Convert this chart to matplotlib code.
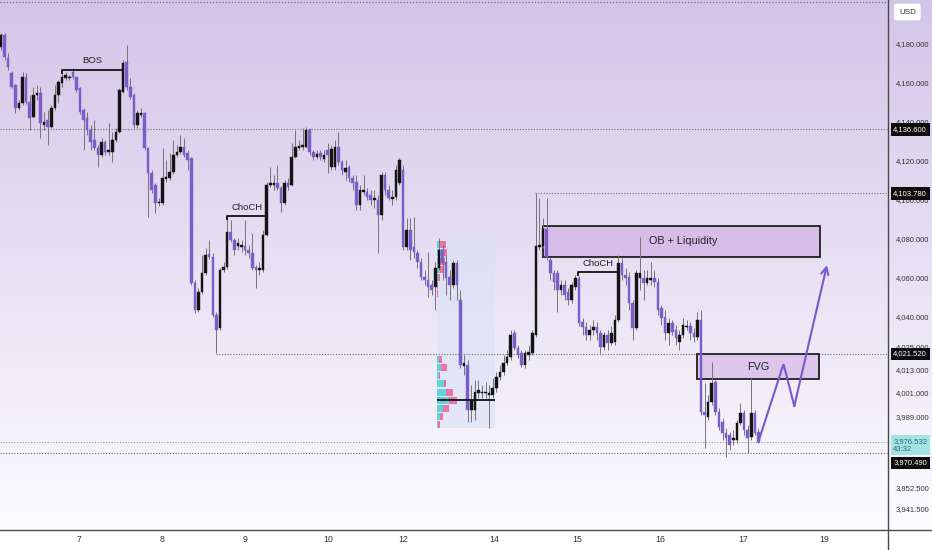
import matplotlib
matplotlib.use("Agg")
import matplotlib.pyplot as plt
import numpy as np
from matplotlib.patches import Rectangle

# ---------------- data (hourly candles) ----------------
opens = [4178.9,4185.0,4173.3,4165.6,4159.4,4147.6,4150.2,4163.5,4150.7,4143.0,
 4154.3,4155.3,4138.9,4141.5,4137.9,4147.6,4154.3,4160.4,4163.0,4163.0,
 4166.1,4163.5,4157.9,4146.6,4142.5,4136.3,4131.2,4127.1,4123.5,4130.2,
 4125.1,4125.1,4131.2,4135.3,4155.8,4171.2,4158.4,4154.3,4138.9,4144.0,
 4145.1,4127.1,4114.3,4108.1,4098.9,4098.9,4111.2,4111.7,4114.8,4123.5,
 4125.1,4127.6,4124.5,4122.0,4057.9,4044.0,4053.3,4063.0,4072.7,4071.2,
 4041.5,4034.8,4064.5,4066.1,4084.0,4079.9,4076.8,4076.3,4076.8,4074.8,
 4073.3,4066.1,4064.5,4064.5,4082.5,4108.1,4108.1,4109.2,4106.6,4098.9,
 4109.2,4108.1,4122.5,4127.1,4127.6,4127.6,4136.3,4125.1,4122.5,4124.5,
 4121.5,4126.1,4117.4,4117.4,4127.6,4119.9,4114.8,4117.4,4111.7,4109.7,
 4097.9,4104.5,4104.5,4103.0,4100.4,4100.4,4092.7,4113.3,4105.6,4101.0,
 4102.0,4109.2,4115.8,4076.3,4085.1,4076.3,4073.3,4068.6,4061.0,4059.4,
 4056.8,4055.8,4065.6,4074.8,4068.6,4061.0,4056.8,4068.1,4049.2,4015.3,
 4015.8,3992.7,3992.7,4001.5,4001.5,4001.5,4000.4,4000.4,4004.0,4009.7,
 4012.2,4016.8,4019.9,4032.2,4024.5,4022.0,4015.8,4020.9,4022.0,4031.2,
 4076.3,4076.8,4085.6,4069.7,4063.0,4063.0,4054.3,4056.8,4053.3,4049.2,
 4055.8,4060.4,4037.9,4035.3,4031.2,4033.8,4035.3,4032.2,4025.1,4031.2,
 4027.1,4027.6,4038.9,4068.1,4062.0,4061.0,4047.6,4034.8,4060.4,4060.4,
 4057.9,4059.4,4060.4,4058.4,4045.1,4040.4,4032.2,4037.4,4033.8,4027.6,
 4031.2,4035.3,4035.8,4032.2,4030.2,4038.9,3991.7,3989.2,3996.8,4007.1,
 3991.7,3986.6,3980.9,3979.9,3977.4,3977.4,3986.1,3991.2,3982.5,3978.9,
 3991.2,3981.5]
highs = [4186.1,4186.1,4175.8,4166.6,4159.9,4151.7,4166.1,4165.6,4154.3,4158.4,
 4159.4,4158.4,4145.6,4146.6,4149.2,4159.4,4162.0,4165.6,4166.1,4164.5,
 4168.1,4164.0,4158.4,4147.6,4145.6,4138.9,4141.5,4128.6,4132.2,4131.2,
 4139.9,4135.3,4137.4,4157.9,4172.2,4179.9,4163.0,4155.3,4146.6,4147.6,
 4145.6,4127.6,4115.8,4109.2,4101.5,4127.1,4121.0,4124.5,4131.2,4128.6,
 4133.8,4132.2,4126.1,4122.5,4059.4,4055.3,4072.2,4075.8,4079.9,4073.3,
 4043.0,4065.6,4068.6,4091.7,4090.2,4080.9,4080.9,4079.9,4090.2,4077.4,
 4083.5,4067.1,4068.6,4085.1,4109.7,4117.4,4113.3,4118.4,4107.6,4110.7,
 4111.7,4129.7,4136.3,4131.2,4137.4,4137.9,4137.4,4126.1,4126.1,4126.1,
 4126.1,4129.7,4128.6,4131.2,4135.3,4121.0,4121.0,4118.4,4113.3,4113.3,
 4108.1,4113.3,4106.6,4105.6,4105.6,4103.0,4114.8,4114.8,4108.1,4105.6,
 4118.4,4122.0,4118.4,4091.2,4091.2,4091.7,4074.8,4070.7,4064.5,4073.8,
 4059.4,4068.6,4080.9,4077.4,4072.2,4064.5,4069.7,4069.7,4054.3,4020.9,
 4018.4,4005.6,4008.1,4008.1,4005.6,4007.1,4005.6,4009.2,4012.2,4015.8,
 4020.9,4023.5,4033.8,4033.8,4026.1,4023.5,4023.5,4026.1,4033.8,4104.0,
 4101.5,4091.2,4101.5,4071.2,4064.5,4064.5,4059.4,4059.4,4055.3,4058.4,
 4062.0,4061.5,4039.9,4037.9,4036.3,4038.9,4037.9,4033.8,4032.7,4033.8,
 4035.8,4041.5,4072.2,4070.7,4065.6,4063.5,4049.2,4064.5,4081.5,4064.5,
 4064.5,4068.6,4064.5,4060.4,4046.6,4044.0,4039.9,4038.9,4036.3,4033.8,
 4039.9,4038.9,4037.9,4034.8,4043.0,4044.0,4006.6,4000.4,4017.4,4008.1,
 3993.8,3988.6,3983.5,3981.5,3982.5,3987.6,3996.3,3992.7,3985.1,4009.2,
 3992.7,3983.5]
lows = [4177.4,4172.2,4167.1,4157.9,4145.1,4146.6,4149.2,4149.7,4136.3,4142.5,
 4151.7,4132.2,4136.3,4128.6,4137.4,4146.6,4150.2,4158.4,4162.0,4162.0,
 4162.5,4155.8,4144.5,4126.1,4133.8,4126.1,4126.1,4117.4,4122.5,4123.5,
 4123.5,4119.9,4130.2,4134.8,4155.3,4156.8,4152.2,4137.4,4137.4,4143.0,
 4126.1,4091.7,4104.0,4093.8,4097.4,4097.9,4109.7,4110.7,4113.8,4122.5,
 4124.0,4122.5,4115.8,4056.8,4042.5,4043.0,4052.2,4062.0,4070.2,4040.4,
 4022.0,4033.8,4063.5,4065.1,4078.9,4072.2,4074.8,4073.8,4072.2,4070.7,
 4064.5,4055.3,4062.0,4063.5,4082.0,4107.1,4105.6,4105.6,4094.3,4097.9,
 4105.6,4107.6,4122.0,4126.1,4126.1,4127.1,4123.5,4121.0,4121.5,4121.0,
 4119.9,4114.3,4115.8,4115.8,4118.4,4113.3,4110.7,4109.7,4105.6,4095.3,
 4095.3,4103.0,4100.4,4097.9,4096.3,4073.3,4090.2,4103.0,4100.4,4097.9,
 4100.4,4108.1,4074.8,4074.8,4069.7,4070.7,4065.6,4059.4,4056.8,4050.7,
 4051.7,4044.0,4064.5,4059.4,4051.7,4049.2,4055.3,4049.2,4014.3,4010.7,
 3986.6,3986.6,3987.6,3998.9,3998.9,3998.9,3983.5,3998.9,4002.0,4008.1,
 4010.7,4015.8,4018.4,4023.5,4019.4,4014.8,4014.3,4018.4,4020.9,4030.2,
 4074.8,4075.8,4069.7,4059.4,4054.3,4043.0,4051.7,4049.2,4046.6,4047.6,
 4054.3,4035.8,4031.2,4028.6,4028.6,4031.2,4028.6,4022.0,4023.5,4023.5,
 4026.1,4026.1,4037.9,4059.4,4056.8,4044.0,4028.6,4033.8,4054.3,4049.2,
 4056.8,4056.8,4055.8,4041.5,4036.3,4028.6,4026.1,4031.2,4026.1,4023.5,
 4029.7,4033.8,4028.6,4027.6,4028.6,3990.2,3973.3,3987.6,3995.3,3990.2,
 3982.5,3977.4,3968.6,3972.2,3974.8,3975.8,3985.1,3979.9,3970.7,3977.4,
 3979.9,3975.8]
closes = [4185.0,4173.8,4168.6,4158.4,4147.6,4150.2,4163.5,4150.7,4142.5,4154.3,
 4155.3,4139.9,4140.4,4137.9,4147.6,4154.3,4161.0,4163.5,4164.5,4163.5,
 4163.5,4156.8,4145.6,4141.5,4136.3,4130.2,4127.1,4123.5,4130.2,4125.1,
 4126.1,4131.2,4135.3,4156.8,4170.7,4158.4,4153.3,4138.9,4145.1,4145.1,
 4127.1,4114.3,4105.6,4098.9,4099.4,4111.7,4112.2,4114.8,4123.5,4125.1,
 4127.6,4123.5,4121.0,4057.9,4044.0,4053.3,4063.0,4072.2,4071.2,4041.5,
 4033.8,4064.5,4066.1,4084.0,4079.9,4074.8,4078.4,4077.4,4074.8,4073.3,
 4065.6,4064.5,4065.6,4082.5,4108.1,4109.2,4109.2,4106.6,4098.9,4109.2,
 4107.1,4122.5,4127.6,4128.1,4128.6,4136.3,4125.1,4122.5,4124.0,4122.5,
 4123.5,4123.5,4126.6,4127.6,4119.9,4115.8,4116.8,4111.7,4109.2,4097.9,
 4105.6,4105.6,4102.0,4100.4,4101.5,4092.7,4113.3,4105.6,4101.5,4102.0,
 4115.8,4121.0,4076.3,4085.1,4074.8,4073.8,4068.6,4061.0,4059.4,4055.8,
 4054.3,4065.6,4074.8,4068.1,4060.4,4056.8,4068.1,4056.8,4015.8,4016.8,
 3992.7,3997.9,4002.0,4003.0,4002.0,4002.0,4001.5,4004.0,4009.7,4012.2,
 4016.8,4019.9,4031.2,4024.5,4020.9,4015.8,4022.0,4022.5,4032.2,4076.8,
 4077.4,4085.6,4071.2,4063.0,4058.4,4054.3,4056.8,4051.7,4049.2,4056.8,
 4060.4,4037.4,4035.3,4031.2,4033.8,4035.3,4032.2,4025.1,4031.2,4027.1,
 4032.2,4038.9,4068.1,4062.0,4060.4,4047.6,4034.8,4063.0,4063.0,4057.9,
 4060.4,4060.4,4058.4,4044.0,4039.9,4032.2,4037.4,4032.7,4029.7,4031.2,
 4036.3,4035.8,4032.2,4030.2,4038.9,3991.7,3990.2,3996.8,4006.6,3991.7,
 3984.0,3980.9,3978.4,3974.8,3978.4,3986.1,3991.2,3982.5,3978.4,3991.2,
 3980.9,3976.5]

day_labels = ["7", "8", "9", "10", "12", "14", "15", "16", "17", "19"]
day_bar_pos = [21.7, 44.9, 68.0, 91.1, 112.0, 137.4, 160.5, 183.6, 206.7, 229.3]

price_ticks = [4180, 4160, 4140, 4120, 4100, 4080, 4060, 4040, 4025, 4013, 4001, 3989, 3952.5, 3941.5]

marked_levels = [4136.6, 4103.78, 4021.52, 3970.49]
last_price = 3976.532

# visible range volume profile (price rows, buy / sell volume, relative)
vp_prices = [3985.1, 3989.3, 3993.5, 3997.7, 4001.9, 4006.1, 4010.3, 4014.5, 4018.7,
             4022.9, 4027.1, 4031.3, 4035.5, 4039.7, 4043.9, 4048.1, 4052.3, 4056.5,
             4060.7, 4064.9, 4069.1, 4073.3, 4077.5]
vp_buy = [2, 8, 15, 30, 22, 18, 5, 10, 5, 0, 0, 0, 0, 0, 0, 0, 0, 0, 3, 8, 8, 14, 5]
vp_sell = [6, 7, 15, 20, 18, 4, 3, 15, 7, 1, 1, 1, 1, 1, 1, 1, 2, 3, 6, 8, 12, 12, 18]
vp_poc = 3997.9

# ---------------- figure ----------------
W, H = 932, 550
fig = plt.figure(figsize=(W / 100, H / 100), dpi=100)
plt.rcParams["font.family"] = ["Liberation Sans", "DejaVu Sans"]

# background gradient
bg = fig.add_axes([0, 0, 1, 1], zorder=-5)
bg.set_axis_off()
top = np.array([0.823, 0.776, 0.910])
bot = np.array([0.990, 0.988, 0.998])
t = np.linspace(0, 1, 530)[:, None]
grad = top * (1 - t) + bot * t
img = np.ones((550, 1, 3))
img[:530, 0, :] = grad
bg.imshow(img, aspect="auto", extent=[0, 1, 0, 1], origin="upper")
bg.set_xlim(0, 1)
bg.set_ylim(0, 1)

ax = fig.add_axes([0, 20 / H, 888 / W, 530 / H])
ax.patch.set_alpha(0)
for s in ax.spines.values():
    s.set_visible(False)
ax.set_xticks([])
ax.set_yticks([])
ax.set_xlim(-0.28, 247.1)
ax.set_ylim(3931.2, 4203.0)

# axis frame lines
fig.add_artist(plt.Line2D([888 / W, 888 / W], [0, 1], color="#4a4a4a", lw=1.0))
fig.add_artist(plt.Line2D([0, 1], [20 / H, 20 / H], color="#4a4a4a", lw=1.0))

# dotted horizontal lines
dot = (0, (1, 1.5))
ax.axhline(4202.0, color="#7a6f8e", lw=0.9, ls=dot)
ax.axhline(marked_levels[0], color="#6c6c78", lw=0.8, ls=dot)
ax.hlines(marked_levels[1], 148.8, 247.1, color="#6c6c78", lw=0.8, ls=dot)
ax.hlines(marked_levels[2], 59.9, 247.1, color="#6c6c78", lw=0.8, ls=dot)
ax.axhline(last_price, color="#9a9aa6", lw=0.8, ls=dot)
ax.axhline(marked_levels[3], color="#6c6c78", lw=0.8, ls=dot)

# volume profile region
vp_left, vp_right = 121.4, 137.6
ax.add_patch(Rectangle((vp_left, 3983.5), vp_right - vp_left, 4081.5 - 3983.5,
                       fc="#d9e2f6", ec="none", alpha=0.65, zorder=1))
scale = 5.6 / 50.0
row_h = 3.6
buy_w = np.array(vp_buy) * scale
sell_w = np.array(vp_sell) * scale
ax.barh(vp_prices, buy_w, left=vp_left, height=row_h, color="#52d0d5", alpha=0.9, zorder=2)
ax.barh(vp_prices, sell_w, left=vp_left + buy_w, height=row_h, color="#f0659e", alpha=0.9, zorder=2)
ax.hlines(vp_poc, vp_left, vp_right, color="#111111", lw=1.3, zorder=4)

# candles
o = np.array(opens); h = np.array(highs); l = np.array(lows); c = np.array(closes)
x = np.arange(len(o))
up = c >= o
purple = "#7a5dc9"
black = "#141414"
cols = np.where(up, black, purple)
ax.vlines(x, l, h, color="#747474", lw=0.7, zorder=3)
bottom = np.minimum(o, c)
height = np.maximum(np.abs(c - o), 0.6)
ax.bar(x, height, bottom=bottom, width=0.72, color=cols, edgecolor=cols, linewidth=0.3, zorder=3.5)

# ---------------- annotations ----------------
def struct_line(x0, x1, y, label, lx, ly):
    ax.plot([x0, x0, x1], [y - 2.0, y, y], color="#111111", lw=1.3, zorder=5, solid_capstyle="butt")
    ax.text(lx, ly, label, fontsize=6.8, color="#222222", ha="center", va="center", zorder=6)

struct_line(17.0, 34.3, 4167.1, "BOS", 25.4, 4171.8)
struct_line(63.0, 74.1, 4092.2, "ChoCH", 68.5, 4096.8)
struct_line(160.8, 171.9, 4063.4, "ChoCH", 166.3, 4068.1)

ax.add_patch(Rectangle((151.0, 4071.4), 228.2 - 151.0, 4087.3 - 4071.4,
                       fc="#d6bce8", ec="#151515", lw=1.3, zorder=2.5, alpha=0.95))
ax.text(190.0, 4079.3, "OB + Liquidity", fontsize=7.8, color="#222222", ha="center", va="center", zorder=6)

ax.add_patch(Rectangle((194.0, 4008.5), 227.9 - 194.0, 4021.5 - 4008.5,
                       fc="#dcc4ec", ec="#151515", lw=1.3, zorder=2.5, alpha=0.95))
ax.text(210.9, 4014.8, "FVG", fontsize=7.8, color="#222222", ha="center", va="center", zorder=6)

arrow_x = [211.0, 218.0, 221.0, 230.1]
arrow_y = [3976.5, 4016.3, 3994.8, 4067.1]
acol = "#7a58cc"
ax.plot(arrow_x[:3], arrow_y[:3], color=acol, lw=1.5, zorder=6, solid_joinstyle="miter")
ax.annotate("", xy=(arrow_x[3], arrow_y[3]), xytext=(arrow_x[2], arrow_y[2]),
            arrowprops=dict(arrowstyle="->", color=acol, lw=1.5, mutation_scale=13,
                            shrinkA=0, shrinkB=0), zorder=6)

# ---------------- price axis ----------------
ytr = ax.get_yaxis_transform()
fs = 5.5
for v in price_ticks:
    ax.text(1.0085, v, f"{v:,.3f}", transform=ytr, fontsize=fs, color="#333333",
            ha="left", va="center", clip_on=False, zorder=7)
label_pos = [4136.6, 4103.78, 4021.52, 3965.6]
for v, yp in zip(marked_levels, label_pos):
    ax.text(1.006, yp, f"{v:,.3f}", transform=ytr, fontsize=fs, color="white",
            ha="left", va="center", clip_on=False, zorder=9,
            bbox=dict(boxstyle="square,pad=0.35", fc="#0c0c0c", ec="none"))
ax.text(1.006, last_price - 1.9, f"{last_price:,.3f}\n43:32", transform=ytr, fontsize=fs,
        color="#1f6f78", ha="left", va="center", clip_on=False, zorder=9, linespacing=1.15,
        bbox=dict(boxstyle="square,pad=0.35", fc="#a4e3e3", ec="none"))

fig.text(899 / W, 1 - 12 / H, "USD", fontsize=5.8, color="#333333", ha="left", va="center",
         bbox=dict(boxstyle="round,pad=0.6,rounding_size=0.3", fc="white", ec="none"))

# ---------------- time axis ----------------
xtr = ax.get_xaxis_transform()
for p, lab in zip(day_bar_pos, day_labels):
    ax.text(p, -10 / 530, lab, transform=xtr, fontsize=6.3, color="#333333",
            ha="center", va="center", clip_on=False)

fig.savefig("out.png", dpi=100)
